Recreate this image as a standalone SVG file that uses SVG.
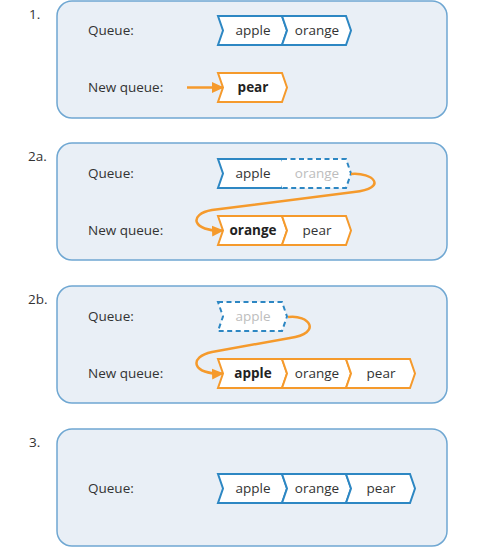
<svg xmlns="http://www.w3.org/2000/svg" width="504" height="548" viewBox="0 0 504 548">
<defs>
<style>
.panel{fill:#e9eff6;stroke:#6fa7d2;stroke-width:1.5}
.cb{fill:#ffffff;stroke:#2d87c3;stroke-width:2;stroke-linejoin:miter}
.cd{fill:#ffffff;stroke:#2d87c3;stroke-width:2;stroke-dasharray:5 3.5}
.co{fill:#ffffff;stroke:#f59a2c;stroke-width:2}
text{font-family:"Open Sans","Noto Sans","Liberation Sans",sans-serif;font-size:13.5px;fill:#333333}
.c{text-anchor:middle}
.b{font-weight:bold;fill:#222222}
.f{fill:#bdbdbd}
.conn{fill:none;stroke:#f59a2c;stroke-width:2.5}
</style>
<marker id="ah" markerUnits="userSpaceOnUse" markerWidth="12" markerHeight="12" viewBox="0 0 12 12" refX="11" refY="6" orient="auto">
<path d="M0,0.5 L12,6 L0,11.5 Z" fill="#f59a2c"/>
</marker>
</defs>
<rect width="504" height="548" fill="#ffffff"/>

<g id="panel-1">
<text x="29" y="19">1.</text>
<rect class="panel" x="57" y="1" width="390" height="117" rx="15"/>
<text x="88" y="35">Queue:</text>
<text x="88" y="92">New queue:</text>
<g id="p1-apple"><path class="cb" d="M218,16 H282 L287,30.5 L282,45 H218 L223,30.5 Z"/><text class="c" x="253" y="35">apple</text></g>
<g id="p1-orange"><path class="cb" d="M282,16 H346 L351,30.5 L346,45 H282 L287,30.5 Z"/><text class="c" x="317" y="35">orange</text></g>
<g id="p1-pear"><path class="co" d="M218,73 H282 L287,87.5 L282,102 H218 L223,87.5 Z"/><text class="c b" x="253" y="92">pear</text></g>
</g>

<g id="panel-2a">
<text x="28" y="161">2a.</text>
<rect class="panel" x="57" y="143" width="390" height="117" rx="15"/>
<text x="88" y="178">Queue:</text>
<text x="88" y="235">New queue:</text>
<g id="p2a-apple"><path class="cb" d="M218,159 H282 L287,173.5 L282,188 H218 L223,173.5 Z"/><text class="c" x="253" y="178">apple</text></g>
<g id="p2a-orange-old"><path class="cd" d="M282,159 H346 L351,173.5 L346,188 H282"/><text class="c f" x="317" y="178">orange</text></g>
<g id="p2a-orange"><path class="co" d="M218,216 H282 L287,230.5 L282,245 H218 L223,230.5 Z"/><text class="c b" x="253" y="235">orange</text></g>
<g id="p2a-pear"><path class="co" d="M282,216 H346 L351,230.5 L346,245 H282 L287,230.5 Z"/><text class="c" x="317" y="235">pear</text></g>
</g>

<g id="panel-2b">
<text x="28" y="304">2b.</text>
<rect class="panel" x="57" y="286" width="390" height="117" rx="15"/>
<text x="88" y="321">Queue:</text>
<text x="88" y="378">New queue:</text>
<g id="p2b-apple-old"><path class="cd" d="M218,302 H282 L287,316.5 L282,331 H218 L223,316.5 Z"/><text class="c f" x="253" y="321">apple</text></g>
<g id="p2b-apple"><path class="co" d="M218,359 H282 L287,373.5 L282,388 H218 L223,373.5 Z"/><text class="c b" x="253" y="378">apple</text></g>
<g id="p2b-orange"><path class="co" d="M282,359 H346 L351,373.5 L346,388 H282 L287,373.5 Z"/><text class="c" x="317" y="378">orange</text></g>
<g id="p2b-pear"><path class="co" d="M346,359 H410 L415,373.5 L410,388 H346 L351,373.5 Z"/><text class="c" x="381" y="378">pear</text></g>
</g>

<g id="panel-3">
<text x="29" y="447">3.</text>
<rect class="panel" x="57" y="429" width="390" height="117" rx="15"/>
<text x="88" y="493">Queue:</text>
<g id="p3-apple"><path class="cb" d="M218,474 H282 L287,488.5 L282,503 H218 L223,488.5 Z"/><text class="c" x="253" y="493">apple</text></g>
<g id="p3-orange"><path class="cb" d="M282,474 H346 L351,488.5 L346,503 H282 L287,488.5 Z"/><text class="c" x="317" y="493">orange</text></g>
<g id="p3-pear"><path class="cb" d="M346,474 H410 L415,488.5 L410,503 H346 L351,488.5 Z"/><text class="c" x="381" y="493">pear</text></g>
</g>

<g id="connectors">
<path class="conn" d="M187,87.5 H223" marker-end="url(#ah)"/>
<path class="conn" d="M351,174 C373,172 389,188 354,192 L212,210 C188,214 192,232 223,230.5" marker-end="url(#ah)"/>
<path class="conn" d="M288,317 C309,314 323,333 290,338 L212,352 C188,357 192,375 223,373.5" marker-end="url(#ah)"/>
</g>
</svg>
